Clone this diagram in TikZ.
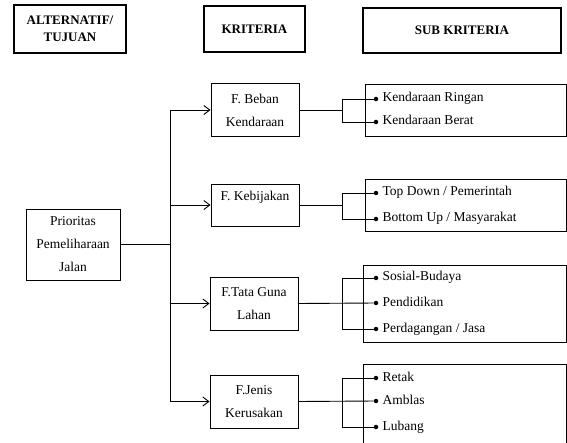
\documentclass[tikz,border=0pt]{standalone}
\usepackage{fontspec}
\setmainfont{Liberation Serif}
\usetikzlibrary{positioning,arrows.meta}
\begin{document}
\begin{tikzpicture}[x=1pt,y=-1pt]
  \tikzstyle{header}=[draw,line width=1.5pt,align=center,inner sep=0pt,font=\fontsize{13}{17}\selectfont\bfseries]
  \tikzstyle{kotak}=[draw,line width=0.9pt,align=center,inner sep=0pt,minimum width=88pt,font=\fontsize{13.5}{23}\selectfont]
  \tikzstyle{subbox}=[draw,line width=0.9pt,inner sep=0pt,minimum width=201pt]
  \tikzstyle{dot}=[circle,fill=black,inner sep=0pt,minimum size=4.5pt]
  \tikzstyle{item}=[inner sep=0pt,text height=8pt,text depth=2pt,font=\fontsize{13.5}{16}\selectfont]
  \tikzstyle{edge}=[draw,line width=0.9pt]
  \tikzstyle{panah}=[edge,-{Straight Barb[length=6pt,width=9pt]}]
  \useasboundingbox (0,0) rectangle (567,443);
  % judul kolom
  \node[header,minimum width=112pt,minimum height=48pt] (ha) at (70,29) {ALTERNATIF/\\TUJUAN};
  \node[header,minimum width=101pt,minimum height=46pt] (hk) at (254.5,29) {KRITERIA};
  \node[header,minimum width=198pt,minimum height=45pt] (hs) at (462,30.5) {SUB KRITERIA};
  % tujuan dan kriteria
  \node[kotak,minimum width=94pt,minimum height=71pt] (pr) at (73,244.5) {Prioritas\\Pemeliharaan\\Jalan};
  \node[kotak,minimum height=53pt] (kb) at (255,110) {F. Beban\\Kendaraan};
  \node[kotak,minimum height=42pt,text depth=18pt] (kk) at (255,205) {F. Kebijakan};
  \node[kotak,minimum height=53pt] (kt) at (254,303.5) {F.Tata Guna\\Lahan};
  \node[kotak,minimum height=53pt] (kj) at (254,401.5) {F.Jenis\\Kerusakan};
  % kotak sub kriteria
  \node[subbox,minimum height=52pt] (s1) at (465.5,110) {};
  \node[subbox,minimum height=52pt] (s2) at (465.5,205) {};
  \node[subbox,minimum width=203pt,minimum height=77pt] (s3) at (464.5,303.5) {};
  \node[subbox,minimum width=203pt,minimum height=88pt] (s4) at (464.5,408) {};
  % butir sub kriteria
  \node[dot] (b11) at (376,99) {};
  \node[dot] (b12) at (376,122) {};
  \node[dot] (b21) at (376,193) {};
  \node[dot] (b22) at (376,219) {};
  \node[dot] (b31) at (376,278) {};
  \node[dot] (b32) at (376,303) {};
  \node[dot] (b33) at (376,329) {};
  \node[dot] (b41) at (376,378) {};
  \node[dot] (b42) at (376,401) {};
  \node[dot] (b43) at (376,427) {};
  \node[item,right=4pt of b11] (t11) {Kendaraan Ringan};
  \node[item,right=4pt of b12] (t12) {Kendaraan Berat};
  \node[item,right=4pt of b21] (t21) {Top Down / Pemerintah};
  \node[item,right=4pt of b22] (t22) {Bottom Up / Masyarakat};
  \node[item,right=4pt of b31] (t31) {Sosial-Budaya};
  \node[item,right=4pt of b32] (t32) {Pendidikan};
  \node[item,right=4pt of b33] (t33) {Perdagangan / Jasa};
  \node[item,right=4pt of b41] (t41) {Retak};
  \node[item,right=4pt of b42] (t42) {Amblas};
  \node[item,right=4pt of b43] (t43) {Lubang};
  % garis penghubung
  \coordinate (sp) at (170,0);
  \coordinate (br) at (342,0);
  \path[edge] (pr.east) -- (pr.east -| sp);
  \path[edge] (kb.west -| sp) -- (kj.west -| sp);
  \foreach \k in {kb,kk,kt,kj}
    \path[panah] (\k.west -| sp) -- (\k.west);
  \path[edge] (kb.east) -- (kb.east -| br);
  \path[edge] (b11) -- (b11 -| br) -- (b12 -| br) -- (b12);
  \path[edge] (kk.east) -- (kk.east -| br);
  \path[edge] (b21) -- (b21 -| br) -- (b22 -| br) -- (b22);
  \path[edge] (kt.east) -- (b32);
  \path[edge] (b31) -- (b31 -| br) -- (b33 -| br) -- (b33);
  \path[edge] (kj.east) -- (b42);
  \path[edge] (b41) -- (b41 -| br) -- (b43 -| br) -- (b43);
\end{tikzpicture}
\end{document}
